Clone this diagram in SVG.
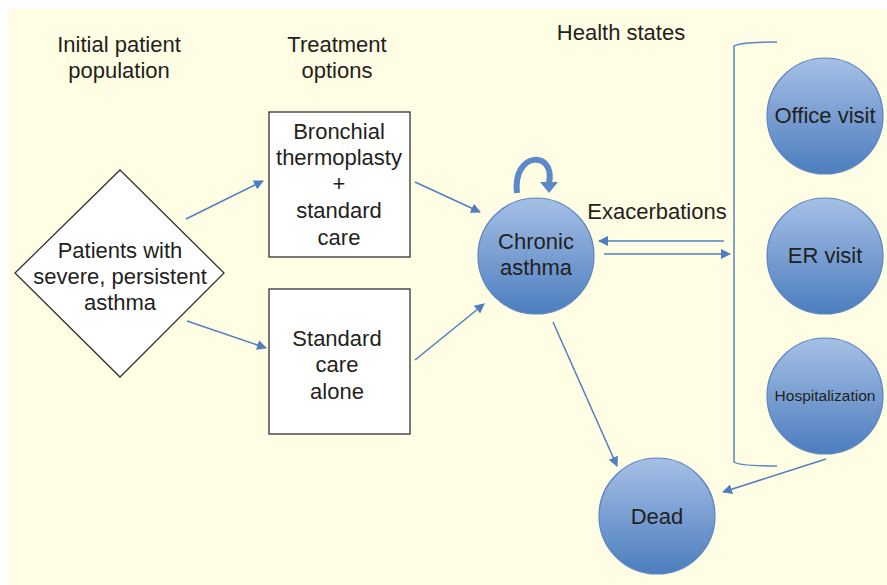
<svg xmlns="http://www.w3.org/2000/svg" width="887" height="585" viewBox="0 0 887 585">
<defs>
<linearGradient id="g" x1="0" y1="0" x2="0" y2="1">
<stop offset="0" stop-color="#A6C0E6"/>
<stop offset="1" stop-color="#4C7DBE"/>
</linearGradient>
<marker id="ah" viewBox="0 0 10 10" refX="9" refY="5" markerWidth="10" markerHeight="10" markerUnits="userSpaceOnUse" orient="auto">
<path d="M0,0 L10,5 L0,10 z" fill="#4F7FC0"/>
</marker>
<style>
text{font-family:"Liberation Sans",Arial,sans-serif;font-size:22px;fill:#231F20;text-anchor:middle}
.c{fill:url(#g);stroke:#5A85C2;stroke-width:1.2}
.b{fill:#fff;stroke:#333;stroke-width:1.3}
.l{stroke:#4F7FC0;stroke-width:1.5;fill:none;marker-end:url(#ah)}
</style>
</defs>
<rect x="0" y="0" width="887" height="585" fill="#fff"/>
<rect x="8" y="9" width="879" height="576" fill="#FFFDE3"/>
<g id="labels">
<text x="119" y="52">Initial patient</text>
<text x="119" y="78">population</text>
<text x="337" y="52">Treatment</text>
<text x="337" y="78">options</text>
<text x="621" y="40">Health states</text>
<text x="657" y="219">Exacerbations</text>
</g>
<g id="patients">
<polygon class="b" points="120,170 224,273 120,377 15,273"/>
<text x="120" y="258">Patients with</text>
<text x="120" y="284">severe, persistent</text>
<text x="120" y="310">asthma</text>
</g>
<g id="bt">
<rect class="b" x="269" y="112" width="141" height="145"/>
<text x="339" y="139">Bronchial</text>
<text x="339" y="165">thermoplasty</text>
<text x="339" y="191">+</text>
<text x="339" y="218">standard</text>
<text x="339" y="245">care</text>
</g>
<g id="sc">
<rect class="b" x="269" y="289" width="141" height="145"/>
<text x="337" y="346">Standard</text>
<text x="337" y="372">care</text>
<text x="337" y="399">alone</text>
</g>
<g id="chronic">
<circle class="c" cx="536" cy="256" r="58"/>
<text x="536" y="249">Chronic</text>
<text x="536" y="275">asthma</text>
</g>
<g id="office">
<circle class="c" cx="825" cy="116" r="58"/>
<text x="825" y="123">Office visit</text>
</g>
<g id="er">
<circle class="c" cx="825" cy="256" r="58"/>
<text x="825" y="263">ER visit</text>
</g>
<g id="hosp">
<circle class="c" cx="825" cy="396" r="58"/>
<text x="825" y="401" style="font-size:15.5px">Hospitalization</text>
</g>
<g id="dead">
<circle class="c" cx="657" cy="516" r="58"/>
<text x="657" y="524">Dead</text>
</g>
<g id="bracket" fill="none" stroke="#5A85C2" stroke-width="1.5">
<path d="M777,42 Q740,42 734,46 L734,462 Q740,466 777,466"/>
</g>
<g id="connectors">
<line class="l" x1="186" y1="219" x2="263" y2="181"/>
<line class="l" x1="187" y1="321" x2="266" y2="348"/>
<line class="l" x1="415" y1="182" x2="480" y2="212"/>
<line class="l" x1="415" y1="360" x2="484" y2="304"/>
<line class="l" x1="724" y1="241" x2="599" y2="241"/>
<line class="l" x1="604" y1="254" x2="730" y2="254"/>
<line class="l" x1="553" y1="322" x2="617" y2="466"/>
<line class="l" x1="826" y1="459" x2="723" y2="492"/>
<path d="M517,193 C512,151 556,150 549,183" fill="none" stroke="#5B8AC8" stroke-width="6"/>
<path d="M540,182 L558,182 L549,193 z" fill="#5B8AC8"/>
</g>
</svg>
